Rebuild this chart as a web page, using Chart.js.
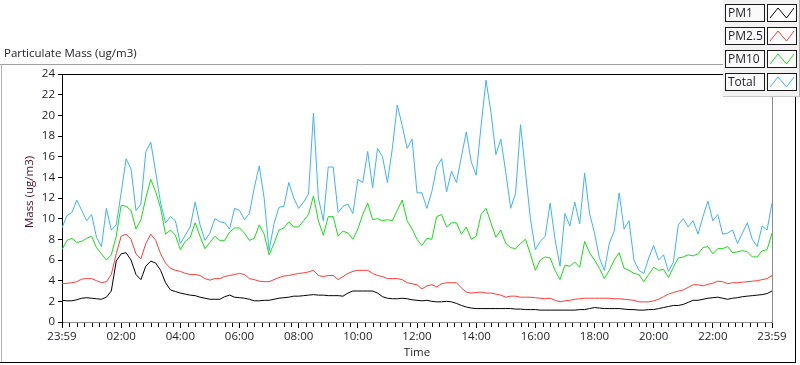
<!DOCTYPE html>
<html>
<head>
<meta charset="utf-8">
<script src="https://cdn.jsdelivr.net/npm/chart.js@4.4.1/dist/chart.umd.min.js"></script>
<style>
  html, body { margin:0; padding:0; background:#fff; }
  canvas { display:block; }
</style>
</head>
<body>
<canvas id="pm-chart" width="800" height="365"></canvas>
<script>
// ── data ─────────────────────────────────────────────
const STEP_MIN = 10; // one reading every 10 min, 23:59 → 23:59
const xTickLabels = ['23:59','02:00','04:00','06:00','08:00','10:00','12:00','14:00','16:00','18:00','20:00','22:00','23:59'];
const yMax = 24, yStep = 2;
const seriesNames = ['PM1','PM2.5','PM10','Total'];
const seriesColors = ['#000000','#ff3c3c','#14e014','#3db4f5'];

const pm1 = [
  2.1,2.05,2.05,2.15,2.3,2.35,2.3,2.25,2.2,2.4,3.0,
  5.9,6.6,6.7,6.0,4.6,4.1,5.4,5.9,5.7,5.0,
  3.8,3.1,2.95,2.8,2.7,2.6,2.55,2.4,2.3,2.2,
  2.2,2.2,2.45,2.6,2.4,2.35,2.3,2.2,2.05,2.05,
  2.1,2.1,2.2,2.3,2.35,2.4,2.5,2.5,2.55,2.6,
  2.65,2.6,2.6,2.55,2.55,2.55,2.5,2.8,3.0,3.0,
  3.0,3.0,3.0,2.8,2.45,2.3,2.25,2.25,2.3,2.25,
  2.15,2.1,2.05,2.1,2.0,1.95,1.95,2.0,1.95,1.8,
  1.6,1.45,1.35,1.3,1.3,1.3,1.3,1.3,1.3,1.3,
  1.3,1.25,1.25,1.2,1.2,1.2,1.15,1.15,1.15,1.15,
  1.15,1.15,1.15,1.15,1.2,1.2,1.3,1.4,1.35,1.3,
  1.3,1.3,1.3,1.25,1.2,1.2,1.15,1.15,1.2,1.2,
  1.3,1.4,1.5,1.6,1.6,1.7,1.9,2.1,2.1,2.2,
  2.3,2.35,2.4,2.3,2.2,2.3,2.35,2.45,2.5,2.55,
  2.6,2.65,2.75,3.0
];
const pm25 = [
  3.7,3.75,3.8,3.9,4.15,4.2,4.2,4.0,3.8,3.9,4.6,
  6.6,8.3,8.5,8.0,6.6,6.1,7.6,8.5,7.9,6.6,
  5.7,5.2,5.0,4.9,4.7,4.6,4.6,4.5,4.2,4.05,
  4.2,4.2,4.4,4.5,4.6,4.7,4.6,4.2,4.1,3.95,
  3.9,3.9,4.1,4.3,4.45,4.5,4.6,4.7,4.75,4.85,
  5.0,4.5,4.4,4.5,4.5,4.1,4.4,4.7,4.9,5.0,
  5.0,5.0,4.7,4.5,4.4,4.2,4.2,4.2,4.1,3.8,
  3.7,3.6,3.2,3.5,3.6,3.4,3.7,3.8,3.8,3.8,
  3.3,2.9,2.8,2.85,2.9,2.8,2.8,2.7,2.6,2.4,
  2.5,2.5,2.4,2.4,2.4,2.35,2.3,2.25,2.3,2.1,
  1.95,2.05,2.1,2.2,2.25,2.3,2.3,2.3,2.3,2.3,
  2.3,2.25,2.25,2.2,2.15,2.1,1.95,1.95,1.95,2.05,
  2.2,2.45,2.7,2.85,3.0,3.1,3.35,3.6,3.6,3.5,
  3.65,3.75,3.95,3.9,3.7,3.8,3.8,3.85,3.9,3.95,
  4.0,4.1,4.2,4.5
];
const pm10 = [
  7.0,7.9,8.1,7.7,7.8,8.1,8.3,7.2,6.6,6.0,6.5,
  8.3,11.3,11.2,10.8,9.0,9.9,12.0,13.8,12.6,11.0,
  8.5,8.9,8.4,7.0,7.8,8.2,9.6,8.3,7.1,7.7,
  8.3,7.9,7.9,8.7,9.1,9.1,8.6,7.9,8.1,9.4,
  8.5,6.5,7.6,8.9,9.1,9.7,9.2,9.2,9.8,10.4,
  12.2,9.8,8.4,10.2,10.2,8.3,8.8,8.6,8.0,9.0,
  10.4,11.5,9.9,10.0,9.8,9.9,9.8,10.8,11.8,9.8,
  9.0,8.0,7.4,8.1,8.0,10.2,10.4,9.2,9.6,9.6,
  8.5,9.2,8.0,8.3,10.4,11.0,9.6,8.2,8.9,7.6,
  7.2,7.1,7.6,8.0,6.6,5.0,6.0,6.3,6.2,5.0,
  4.1,5.5,5.4,5.8,5.3,7.8,6.7,6.0,5.2,4.2,
  5.0,6.0,6.7,5.2,5.0,4.7,4.6,3.9,4.6,5.3,
  5.0,5.1,4.3,5.3,6.2,6.3,6.5,6.4,6.6,7.2,
  7.3,6.6,7.1,7.1,7.3,6.7,6.8,6.9,6.8,6.3,
  6.3,6.9,7.0,8.6
];
const total = [
  9.1,10.3,10.6,11.8,10.8,9.8,10.4,8.2,7.3,11.0,8.9,
  9.4,12.5,15.8,14.8,10.8,11.4,16.5,17.4,14.5,11.5,
  9.6,10.2,9.8,7.6,8.4,9.2,11.6,9.4,7.9,8.6,
  10.0,9.7,9.6,9.0,11.0,10.8,9.9,10.5,13.0,15.1,
  12.0,6.9,9.5,11.1,11.2,13.5,12.0,11.0,11.6,12.4,
  20.2,12.0,9.8,15.0,15.0,10.6,11.2,11.4,10.5,13.8,
  13.5,16.5,13.0,16.8,16.0,13.5,16.8,21.0,19.0,16.8,
  17.7,12.5,12.5,11.0,12.6,15.0,15.8,12.6,14.6,13.5,
  16.0,18.4,15.5,14.2,19.0,23.4,20.3,16.2,17.7,14.5,
  11.0,12.5,19.1,14.5,10.0,7.0,7.8,8.3,11.5,8.0,
  5.4,10.5,9.3,11.6,9.5,14.4,10.5,8.6,6.2,5.0,
  7.6,8.8,12.5,9.0,9.8,6.0,5.0,4.7,6.2,7.4,
  6.0,6.5,4.9,5.8,9.4,10.0,9.2,9.8,8.5,10.2,
  11.7,9.8,10.4,8.5,8.6,8.9,7.6,8.6,9.6,8.0,
  7.3,9.3,8.9,11.5
];

// ── look ─────────────────────────────────────────────
const FONT = 'Open Sans';
const FSIZE = 11.5;
const textColor = '#1c1c28';

const toPoints = vals => vals.map((v,i)=>({x:i*STEP_MIN, y:v}));

// LabVIEW-ish frame, titles, minor ticks and plot legend
const panelDecor = {
  id:'panelDecor',
  beforeDraw(chart) {
    const c = chart.ctx;
    c.save(); c.fillStyle = '#fff'; c.fillRect(0,0,chart.width,chart.height); c.restore();
  },
  afterDraw(chart) {
    const c = chart.ctx, a = chart.chartArea, xs = chart.scales.x;
    const line = (x1,y1,x2,y2,col) => { c.strokeStyle=col; c.beginPath(); c.moveTo(x1,y1); c.lineTo(x2,y2); c.stroke(); };
    c.save();
    c.lineWidth = 1;
    // plot frame
    line(a.left, a.top+0.5, a.right, a.top+0.5, '#000');
    line(a.right+0.5, a.top, a.right+0.5, a.bottom, '#8c8c8c');
    // minor ticks every 15 min
    for (let m = 15; m < 1440; m += 15) {
      if (m % 120 === 0) continue;
      const px = Math.round(xs.getPixelForValue(m)) + 0.5;
      line(px, a.bottom+1, px, a.bottom+5, '#000');
    }
    // outer panel
    line(0, 64.5, 723, 64.5, '#a0a0a0');
    line(1.5, 64, 1.5, 363, '#b4b4b4');
    line(0, 362.5, 796, 362.5, '#000');
    line(795.5, 97, 795.5, 363, '#000');
    // graph title
    c.fillStyle = textColor;
    c.font = FSIZE+'px "'+FONT+'"';
    c.textBaseline = 'alphabetic';
    c.textAlign = 'left';
    c.fillText('Particulate Mass (ug/m3)', 4, 57);
    // y axis name
    c.save();
    c.translate(30, 192);
    c.rotate(-Math.PI/2);
    c.textAlign = 'center';
    c.textBaseline = 'middle';
    c.fillStyle = '#4a1030';
    c.fillText('Mass (ug/m3)', 0, 0);
    c.restore();
    // legend panel
    c.fillStyle = '#f2f2f2';
    c.fillRect(723, 0, 77, 97);
    line(723, 96.5, 800, 96.5, '#c8c8c8');
    line(799.5, 0, 799.5, 97, '#b0b0b0');
    chart.data.datasets.forEach((ds,i) => {
      const y0 = 5 + i*23;
      c.fillStyle = '#fafafa'; c.fillRect(726, y0, 38, 16);
      c.strokeStyle = '#1a1a1a'; c.strokeRect(725.5, y0-0.5, 39, 17);
      c.fillStyle = '#fff'; c.fillRect(768, y0, 28, 16);
      c.strokeRect(767.5, y0-0.5, 29, 17);
      c.fillStyle = textColor;
      c.textAlign = 'left';
      c.textBaseline = 'middle';
      c.font = '12px "'+FONT+'"';
      c.fillText(ds.label, 728, y0+8.5);
      c.strokeStyle = ds.borderColor;
      c.beginPath();
      c.moveTo(770, y0+13); c.lineTo(778, y0+3); c.lineTo(786.5, y0+13); c.lineTo(794, y0+3);
      c.stroke();
    });
    c.restore();
  }
};

const datasets = [pm1, pm25, pm10, total].map((vals,i)=>({
  label: seriesNames[i],
  data: toPoints(vals),
  borderColor: seriesColors[i],
  borderWidth: 1,
  pointRadius: 0,
  tension: 0,
  fill: false
}));

new Chart(document.getElementById('pm-chart'), {
  type: 'line',
  data: { datasets },
  options: {
    responsive: false,
    animation: false,
    devicePixelRatio: 1,
    layout: { padding: { top:74, right:28, left:0, bottom:0 } },
    plugins: { legend:{display:false}, tooltip:{enabled:false} },
    scales: {
      x: {
        type: 'linear', min: 0, max: 1440,
        afterFit: s => { s.height = 43; },
        afterBuildTicks: s => { s.ticks = xTickLabels.map((_,i)=>({value:i*120})); },
        ticks: { autoSkip:false, maxRotation:0, padding:2, color:textColor, font:{family:FONT, size:FSIZE},
                 callback:(v,i)=>xTickLabels[i] },
        grid: { drawOnChartArea:false, tickLength:6, color:'#000' },
        border: { color:'#8c8c8c' },
        title: { display:true, text:'Time', color:textColor, font:{family:FONT, size:FSIZE}, padding:{top:0,bottom:5} }
      },
      y: {
        min: 0, max: yMax,
        afterFit: s => { s.width = 62; },
        ticks: { stepSize:yStep, padding:3, color:textColor, font:{family:FONT, size:FSIZE} },
        grid: { drawOnChartArea:false, tickLength:4, color:'#000' },
        border: { color:'#000' }
      }
    }
  },
  plugins: [panelDecor]
});
</script>
</body>
</html>
